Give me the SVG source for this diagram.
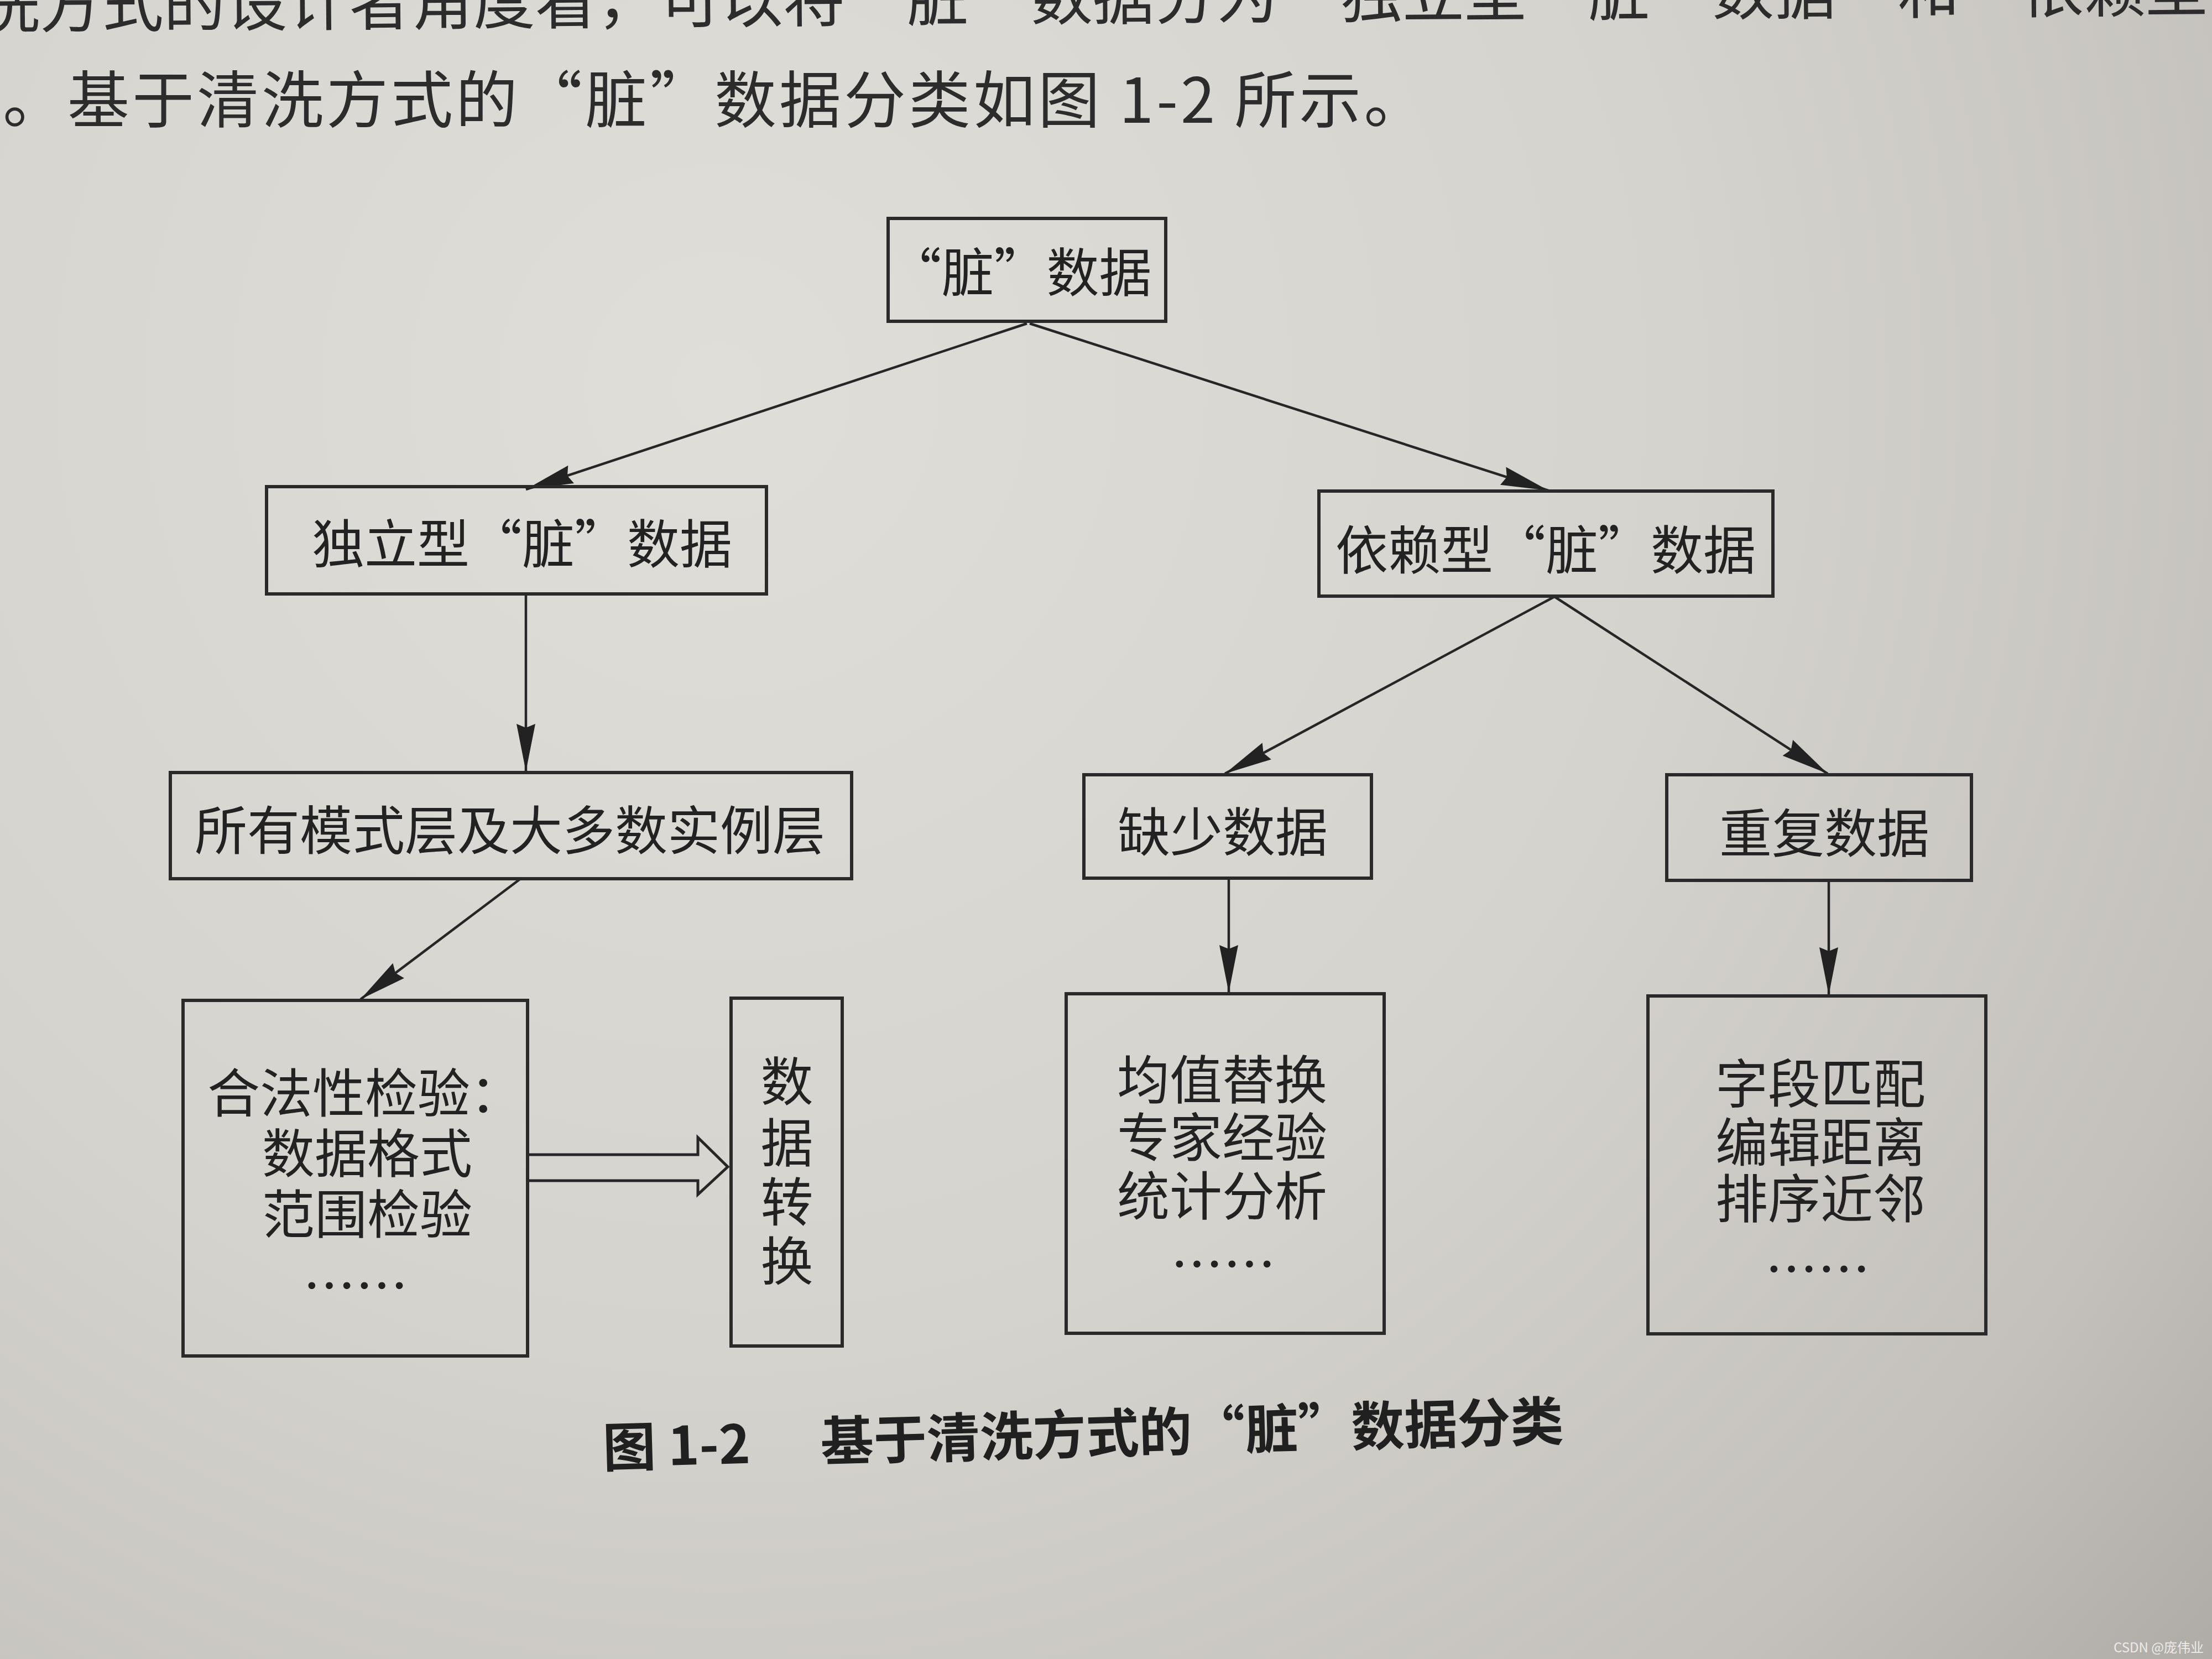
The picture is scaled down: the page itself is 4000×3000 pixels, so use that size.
<svg xmlns="http://www.w3.org/2000/svg" width="4000" height="3000" viewBox="0 0 4000 3000">
<defs>
<radialGradient id="paper" cx="1300" cy="700" r="3900" gradientUnits="userSpaceOnUse">
<stop offset="0" stop-color="#dfded9"/>
<stop offset="0.45" stop-color="#d5d3ce"/>
<stop offset="0.75" stop-color="#c4c1bc"/>
<stop offset="1" stop-color="#a39f99"/>
</radialGradient>
<marker id="ah" markerUnits="userSpaceOnUse" markerWidth="90" markerHeight="40" refX="86" refY="20" orient="auto">
<path d="M0,3 L86,20 L0,37 L7,20 z" fill="#222"/>
</marker>
<style>
.box{fill:none;stroke:#2a2a2a;stroke-width:6}
.lbl{font-family:"Noto Sans CJK SC","Noto Sans",sans-serif;font-size:95px;fill:#222}
.mid{text-anchor:middle}
.con{stroke:#262626;stroke-width:4.5;fill:none}
.arr{marker-end:url(#ah)}
.page{font-family:"Noto Sans CJK SC","Noto Sans",sans-serif;font-size:112px;fill:#2c2c2c}
.cap{font-family:"Noto Sans CJK SC","Noto Sans",sans-serif;font-size:96px;font-weight:bold;fill:#202020}
</style>
</defs>
<rect x="0" y="0" width="4000" height="3000" fill="url(#paper)"/>

<g id="page-text">
<text class="page" x="-40" y="50" transform="rotate(-0.43 0 50)">洗方式的设计者角度看，可以将“脏”数据分为“独立型“脏”数据”和“依赖型</text>
<text class="page" x="5" y="222" letter-spacing="5">。基于清洗方式的“脏”数据分类如图 1-2 所示。</text>
</g>

<g id="connectors">
<line class="con arr" x1="1857" y1="585" x2="951" y2="885"/>
<line class="con arr" x1="1862" y1="585" x2="2800" y2="887"/>
<line class="con arr" x1="951" y1="1076" x2="951" y2="1395"/>
<line class="con arr" x1="2811" y1="1079" x2="2215" y2="1399"/>
<line class="con arr" x1="2811" y1="1079" x2="3305" y2="1399"/>
<line class="con arr" x1="940" y1="1590" x2="652" y2="1807"/>
<line class="con arr" x1="2222" y1="1588" x2="2222" y2="1795"/>
<line class="con arr" x1="3307" y1="1592" x2="3307" y2="1799"/>
<path d="M954,2088 L1262,2088 L1262,2057 L1316,2110 L1262,2160 L1262,2135 L954,2135" fill="none" stroke="#262626" stroke-width="5" stroke-linejoin="miter"/>
</g>

<g id="node-dirty">
<rect class="box" x="1606" y="395" width="502" height="186"/>
<text class="lbl mid" x="1845" y="528">“脏”数据</text>
</g>

<g id="node-independent">
<rect class="box" x="482" y="880" width="904" height="194"/>
<text class="lbl mid" x="944" y="1019">独立型“脏”数据</text>
</g>

<g id="node-dependent">
<rect class="box" x="2385" y="888" width="821" height="190"/>
<text class="lbl mid" x="2795" y="1030">依赖型“脏”数据</text>
</g>

<g id="node-layers">
<rect class="box" x="308" y="1397" width="1232" height="192"/>
<text class="lbl mid" x="922" y="1537" font-size="98">所有模式层及大多数实例层</text>
</g>

<g id="node-missing">
<rect class="box" x="1960" y="1401" width="520" height="187"/>
<text class="lbl mid" x="2211" y="1540">缺少数据</text>
</g>

<g id="node-duplicate">
<rect class="box" x="3014" y="1401" width="551" height="191"/>
<text class="lbl mid" x="3299" y="1542">重复数据</text>
</g>

<g id="node-validity">
<rect class="box" x="331" y="1809" width="623" height="643"/>
<text class="lbl"><tspan x="375" y="2012">合法性检验：</tspan><tspan x="474" y="2121">数据格式</tspan><tspan x="474" y="2231">范围检验</tspan><tspan x="548" y="2361">……</tspan></text>
</g>

<g id="node-transform">
<rect class="box" x="1322" y="1805" width="201" height="629"/>
<text class="lbl mid"><tspan x="1423" y="1991">数</tspan><tspan x="1423" y="2102">据</tspan><tspan x="1423" y="2209">转</tspan><tspan x="1423" y="2316">换</tspan></text>
</g>

<g id="node-mean">
<rect class="box" x="1928" y="1797" width="575" height="614"/>
<text class="lbl mid"><tspan x="2210" y="1988">均值替换</tspan><tspan x="2210" y="2092">专家经验</tspan><tspan x="2210" y="2198">统计分析</tspan><tspan x="2212" y="2322">……</tspan></text>
</g>

<g id="node-field">
<rect class="box" x="2980" y="1801" width="611" height="611"/>
<text class="lbl mid"><tspan x="3292" y="1995">字段匹配</tspan><tspan x="3292" y="2101">编辑距离</tspan><tspan x="3292" y="2203">排序近邻</tspan><tspan x="3287" y="2331">……</tspan></text>
</g>

<g id="caption">
<text class="cap" transform="rotate(-1.6 1091 2653)"><tspan x="1091" y="2653">图 1-2</tspan><tspan x="1485" y="2653">基于清洗方式的“脏”数据分类</tspan></text>
</g>

<text x="3985" y="2988" text-anchor="end" font-family="Noto Sans CJK SC, sans-serif" font-size="24" fill="#ecebea">CSDN @庞伟业</text>
</svg>
